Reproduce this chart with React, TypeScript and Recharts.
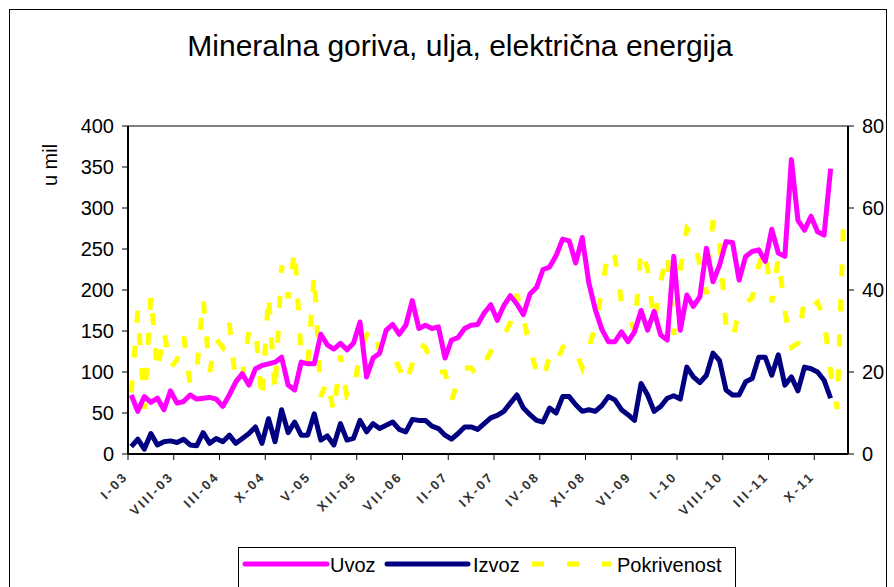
import React from 'react';
import { ComposedChart, Line, XAxis, YAxis, ReferenceLine } from 'recharts';

// monthly values, I-03 .. XII-11 (Uvoz / Izvoz in mil), Pokrivenost in %
const uvoz = [
  72, 52, 70, 63, 68, 54, 77, 62, 64, 72, 67, 68, 69, 67, 58, 72, 88, 98, 84, 104,
  108, 110, 112, 118, 84, 78, 112, 110, 110, 146, 133, 128, 135, 127, 135, 161, 94, 117, 123, 151,
  158, 146, 157, 187, 153, 157, 153, 155, 117, 139, 142, 153, 157, 158, 172, 182, 163, 181, 193, 183,
  170, 195, 203, 225, 228, 242, 262, 260, 233, 264, 209, 176, 152, 137, 137, 149, 137, 149, 175, 151,
  174, 145, 139, 241, 151, 194, 180, 192, 251, 210, 230, 259, 258, 212, 241, 247, 249, 235, 274, 245,
  241, 359, 285, 273, 290, 271, 267, 348,
];

const izvoz = [
  9, 18, 6, 25, 11, 15, 16, 14, 18, 11, 10, 26, 13, 19, 15, 23, 13, 19, 25, 33,
  13, 43, 15, 54, 26, 39, 23, 23, 49, 17, 22, 11, 37, 17, 19, 41, 27, 37, 31, 35,
  39, 30, 27, 42, 41, 41, 34, 31, 23, 18, 25, 33, 33, 30, 37, 44, 47, 52, 62, 72,
  56, 48, 41, 39, 56, 50, 70, 70, 60, 52, 54, 52, 59, 70, 66, 54, 48, 41, 86, 72,
  52, 58, 68, 71, 67, 106, 94, 87, 96, 123, 114, 78, 72, 72, 88, 92, 118, 118, 96, 121,
  84, 94, 77, 106, 104, 100, 90, 68,
];

const pokrivenost = [
  15, 35, 11, 39, 20, 30, 21, 23, 29, 17, 20, 38, 20, 28, 26, 32, 17, 19, 30, 31,
  13, 39, 15, 46, 38, 50, 24, 22, 44, 14, 18, 10, 24, 14, 15, 25, 29, 31, 25, 23,
  24, 21, 17, 22, 27, 26, 22, 20, 20, 13, 18, 21, 21, 19, 22, 25, 28, 29, 32, 39,
  33, 26, 20, 18, 24, 22, 26, 27, 25, 21, 26, 31, 40, 50, 48, 37, 34, 30, 50, 45,
  32, 42, 49, 29, 45, 55, 53, 46, 39, 57, 52, 31, 28, 35, 37, 38, 46, 50, 37, 48,
  35, 26, 27, 38, 36, 37, 33, 20, 11, 58,
];

const tickLabels = [
  'I-03', 'VIII-03', 'III-04', 'X-04', 'V-05', 'XII-05', 'VII-06', 'II-07',
  'IX-07', 'IV-08', 'XI-08', 'VI-09', 'I-10', 'VIII-10', 'III-11', 'X-11',
];

const leftTicks = [0, 50, 100, 150, 200, 250, 300, 350, 400];
const rightTicks = [0, 20, 40, 60, 80];

const rows = pokrivenost.map((p, i) => ({
  i,
  uvoz: i < uvoz.length ? uvoz[i] : null,
  izvoz: i < izvoz.length ? izvoz[i] : null,
  pokrivenost: p,
}));

// tick marks sit between categories, every 7th month
const xTicks = tickLabels.map((_, k) => k * 7 - 0.5);

const FONT = '"Liberation Sans", Arial, sans-serif';

function XTick(props: any) {
  const { x, y, payload } = props;
  const k = Math.round((payload.value + 0.5) / 7);
  const ax = x + 1;
  const ay = y + 17;
  return (
    <text
      x={ax}
      y={ay}
      textAnchor="end"
      fontSize={13}
      fontWeight="bold"
      letterSpacing={2.5}
      fill="#333"
      fontFamily={FONT}
      transform={`rotate(-45 ${ax} ${ay})`}
    >
      {tickLabels[k]}
    </text>
  );
}

export default function App() {
  return (
    <div
      style={{
        position: 'absolute',
        left: 0,
        top: 0,
        width: 894,
        height: 587,
        background: '#fff',
        overflow: 'hidden',
        fontFamily: FONT,
      }}
    >
      <div
        style={{
          position: 'absolute',
          left: 9,
          top: 9,
          width: 876,
          height: 620,
          border: '1px solid #000',
        }}
      />
      <div
        style={{
          position: 'absolute',
          left: 0,
          width: 920,
          top: 29,
          textAlign: 'center',
          fontSize: 30,
          color: '#000',
        }}
      >
        Mineralna goriva, ulja, električna energija
      </div>
      <div
        style={{
          position: 'absolute',
          left: 50,
          top: 165,
          transform: 'translate(-50%, -50%) rotate(-90deg)',
          fontSize: 20,
          whiteSpace: 'nowrap',
        }}
      >
        u mil
      </div>
      <div style={{ position: 'absolute', left: 0, top: 0 }}>
        <ComposedChart
          width={894}
          height={587}
          data={rows}
          margin={{ top: 126, right: 0, bottom: 73, left: 0 }}
        >
          <XAxis
            dataKey="i"
            type="number"
            domain={[-0.5, 109.66]}
            ticks={xTicks}
            interval={0}
            allowDataOverflow
            height={60}
            tickSize={6}
            tickMargin={0}
            tick={<XTick />}
            axisLine={{ stroke: '#000', strokeWidth: 2 }}
            tickLine={{ stroke: '#000' }}
          />
          <YAxis
            yAxisId="left"
            domain={[0, 400]}
            ticks={leftTicks}
            interval={0}
            width={128}
            tickSize={6}
            tickMargin={8}
            tick={{ fontSize: 20, fill: '#000', fontFamily: FONT }}
            axisLine={{ stroke: '#000', strokeWidth: 2 }}
            tickLine={{ stroke: '#000' }}
          />
          <YAxis
            yAxisId="right"
            orientation="right"
            domain={[0, 80]}
            ticks={rightTicks}
            interval={0}
            width={46}
            tickSize={6}
            tickMargin={8}
            tick={{ fontSize: 20, fill: '#000', fontFamily: FONT }}
            axisLine={{ stroke: '#000', strokeWidth: 2 }}
            tickLine={{ stroke: '#000' }}
          />
          <ReferenceLine yAxisId="left" y={400} stroke="#808080" strokeWidth={2} />
          <Line
            yAxisId="right"
            dataKey="pokrivenost"
            type="linear"
            stroke="#FFFF00"
            strokeWidth={5}
            strokeDasharray="12 23"
            dot={false}
            isAnimationActive={false}
          />
          <Line
            yAxisId="left"
            dataKey="izvoz"
            type="linear"
            stroke="#000080"
            strokeWidth={5}
            strokeLinejoin="round"
            dot={false}
            isAnimationActive={false}
          />
          <Line
            yAxisId="left"
            dataKey="uvoz"
            type="linear"
            stroke="#FF00FF"
            strokeWidth={5}
            strokeLinejoin="round"
            dot={false}
            isAnimationActive={false}
          />
        </ComposedChart>
      </div>
      <svg
        width={894}
        height={587}
        style={{ position: 'absolute', left: 0, top: 0, pointerEvents: 'none' }}
      >
        <rect x={238.5} y={547.5} width={497} height={60} fill="#fff" stroke="#000" />
        <line x1={245} y1={564} x2={327} y2={564} stroke="#FF00FF" strokeWidth={5} strokeLinecap="round" />
        <text x={330} y={572} fontSize={20} fontFamily={FONT}>Uvoz</text>
        <line x1={387} y1={564} x2={468} y2={564} stroke="#000080" strokeWidth={5} strokeLinecap="round" />
        <text x={473} y={572} fontSize={20} fontFamily={FONT}>Izvoz</text>
        <line x1={532} y1={564} x2={611} y2={564} stroke="#FFFF00" strokeWidth={5} strokeDasharray="12 23" />
        <text x={617} y={572} fontSize={20} fontFamily={FONT}>Pokrivenost</text>
      </svg>
    </div>
  );
}
